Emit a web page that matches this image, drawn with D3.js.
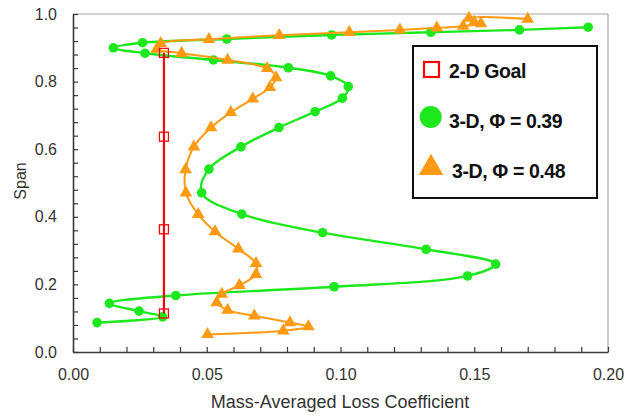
<!DOCTYPE html>
<html>
<head>
<meta charset="utf-8">
<script src="https://cdn.jsdelivr.net/npm/d3@7"></script>
<style>
  html, body { margin: 0; padding: 0; background: #fff; }
  svg { display: block; }
</style>
</head>
<body>
<svg id="chart" width="634" height="416"></svg>
<script>
// ---- data ----
const goalX = [0.034, 0.034, 0.034, 0.034];
const goalY = [0.114, 0.363, 0.637, 0.885];

const g39X = [0.009, 0.0335, 0.0247, 0.0136, 0.0384, 0.0976, 0.1475, 0.158, 0.132, 0.0933, 0.0631, 0.0481, 0.0508, 0.0628, 0.077, 0.0905, 0.1007, 0.1029, 0.0963, 0.0805, 0.0525, 0.0269, 0.0151, 0.026, 0.0575, 0.0967, 0.1338, 0.1669, 0.1926];
const g39Y = [0.087, 0.104, 0.121, 0.144, 0.167, 0.193, 0.225, 0.260, 0.304, 0.353, 0.408, 0.471, 0.541, 0.607, 0.664, 0.711, 0.751, 0.785, 0.817, 0.841, 0.864, 0.884, 0.900, 0.915, 0.926, 0.938, 0.946, 0.953, 0.961];

const g48X = [0.0503, 0.0786, 0.088, 0.0811, 0.0678, 0.0578, 0.0537, 0.0556, 0.0622, 0.0684, 0.0684, 0.0618, 0.0531, 0.0468, 0.0422, 0.0421, 0.0452, 0.0516, 0.059, 0.0672, 0.0736, 0.0759, 0.0726, 0.0578, 0.0406, 0.0313, 0.0328, 0.0508, 0.0771, 0.1033, 0.1222, 0.136, 0.1459, 0.1525, 0.150, 0.148, 0.170];
const g48Y = [0.052, 0.063, 0.075, 0.087, 0.107, 0.124, 0.146, 0.171, 0.197, 0.230, 0.262, 0.305, 0.356, 0.407, 0.471, 0.540, 0.607, 0.664, 0.709, 0.749, 0.783, 0.812, 0.839, 0.864, 0.884, 0.896, 0.913, 0.925, 0.937, 0.946, 0.953, 0.959, 0.964, 0.972, 0.976, 0.988, 0.985];

const xTickLabels = [0.00, 0.05, 0.10, 0.15, 0.20];
const yTickLabels = [0.0, 0.2, 0.4, 0.6, 0.8, 1.0];
const legendLabels = ["2-D Goal", "3-D, \u03A6 = 0.39", "3-D, \u03A6 = 0.48"];
const xTitle = "Mass-Averaged Loss Coefficient";
const yTitle = "Span";

// ---- colours ----
const RED = "#ff0000", GREEN = "#1de81d", ORANGE = "#ff9a12", AXIS = "#3a3a3a";

const svg = d3.select("#chart");
const x = d3.scaleLinear().domain([0, 0.2]).range([73, 608]);
const y = d3.scaleLinear().domain([0, 1]).range([352, 14]);

// frame (top/right light)
svg.append("line").attr("x1", 73).attr("x2", 608).attr("y1", 14).attr("y2", 14).attr("stroke", "#a8a8a8").attr("stroke-width", 1.2);
svg.append("line").attr("x1", 608).attr("x2", 608).attr("y1", 14).attr("y2", 352).attr("stroke", "#a8a8a8").attr("stroke-width", 1.2);

// minor ticks (inward)
const xMinor = d3.axisBottom(x).tickValues(d3.range(0, 0.2001, 0.01)).tickSize(-5).tickFormat("").tickSizeOuter(0);
const yMinor = d3.axisLeft(y).tickValues(d3.range(0, 1.0001, 0.04)).tickSize(-5).tickFormat("").tickSizeOuter(0);
const gx = svg.append("g").attr("transform", "translate(0,352)").call(xMinor);
const gy = svg.append("g").attr("transform", "translate(73,0)").call(yMinor);
[gx, gy].forEach(g => {
  g.select(".domain").attr("stroke", AXIS).attr("stroke-width", 1.6);
  g.selectAll(".tick line").attr("stroke", AXIS).attr("stroke-width", 1.2);
});

// tick labels
const xLab = d3.axisBottom(x).tickValues(xTickLabels).tickSize(0).tickPadding(17).tickFormat(d3.format(".2f"));
const yLab = d3.axisLeft(y).tickValues(yTickLabels).tickSize(0).tickPadding(16).tickFormat(d3.format(".1f"));
const gxl = svg.append("g").attr("transform", "translate(0,352)").call(xLab);
const gyl = svg.append("g").attr("transform", "translate(73,0)").call(yLab);
[gxl, gyl].forEach(g => {
  g.select(".domain").remove();
  g.selectAll("text").attr("font-family", "Liberation Sans, Arial, sans-serif").attr("font-size", 16).attr("fill", "#333");
});

// axis titles
svg.append("text").attr("x", 340).attr("y", 408).attr("text-anchor", "middle")
  .attr("font-family", "Liberation Sans, Arial, sans-serif").attr("font-size", 18).attr("fill", "#333").text(xTitle);
svg.append("text").attr("transform", "translate(26,181) rotate(-90)").attr("text-anchor", "middle")
  .attr("font-family", "Liberation Sans, Arial, sans-serif").attr("font-size", 16).attr("fill", "#333").text(yTitle);

// series
const pts = (xs, ys) => xs.map((v, i) => [v, ys[i]]);
const line = d3.line().x(d => x(d[0])).y(d => y(d[1])).curve(d3.curveCatmullRom.alpha(0.5));

const green = pts(g39X, g39Y), orange = pts(g48X, g48Y), goal = pts(goalX, goalY);

svg.append("path").datum(green).attr("d", line).attr("fill", "none").attr("stroke", GREEN).attr("stroke-width", 2.4);
svg.append("g").selectAll("circle").data(green).join("circle")
  .attr("cx", d => x(d[0])).attr("cy", d => y(d[1])).attr("r", 4.8).attr("fill", GREEN);

const tri = d3.symbol().type(d3.symbolTriangle).size(70);
svg.append("path").datum(orange).attr("d", line).attr("fill", "none").attr("stroke", ORANGE).attr("stroke-width", 2);
svg.append("g").selectAll("path").data(orange).join("path")
  .attr("d", tri).attr("transform", d => `translate(${x(d[0])},${y(d[1])})`).attr("fill", ORANGE);

svg.append("path").datum(goal).attr("d", d3.line().x(d => x(d[0])).y(d => y(d[1]))).attr("fill", "none").attr("stroke", RED).attr("stroke-width", 2.2);
svg.append("g").selectAll("rect").data(goal).join("rect")
  .attr("x", d => x(d[0]) - 4.5).attr("y", d => y(d[1]) - 4.5).attr("width", 9).attr("height", 9)
  .attr("fill", "none").attr("stroke", RED).attr("stroke-width", 1.3);

// legend
const lg = svg.append("g");
lg.append("rect").attr("x", 413).attr("y", 46).attr("width", 184).attr("height", 152)
  .attr("fill", "#fff").attr("stroke", "#111").attr("stroke-width", 2);
const legY = [69.5, 117, 167];
lg.append("rect").attr("x", 424).attr("y", legY[0] - 7.5).attr("width", 15).attr("height", 15)
  .attr("fill", "#fff").attr("stroke", RED).attr("stroke-width", 2.2);
lg.append("circle").attr("cx", 430.7).attr("cy", legY[1]).attr("r", 11).attr("fill", GREEN);
lg.append("path").attr("d", d3.symbol().type(d3.symbolTriangle).size(260)).attr("transform", `translate(431,${legY[2] + 1})`).attr("fill", ORANGE);
const legTx = [449, 449, 452];
const legBase = [77.5, 127.5, 177.5];
legendLabels.forEach((t, i) => {
  lg.append("text").attr("x", legTx[i]).attr("y", legBase[i])
    .attr("font-family", "Liberation Sans, Arial, sans-serif").attr("font-weight", "bold").attr("font-size", 19.5)
    .attr("letter-spacing", -0.4).attr("fill", "#111").text(t);
});
</script>
</body>
</html>
